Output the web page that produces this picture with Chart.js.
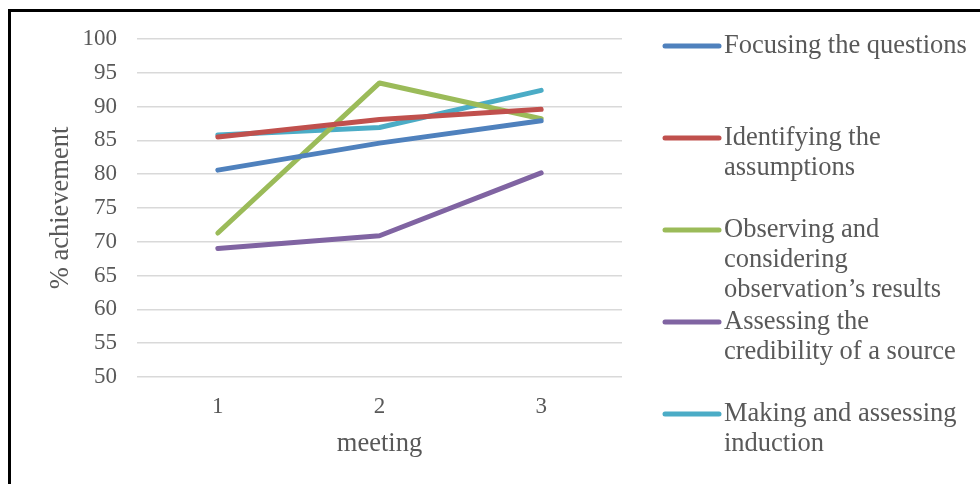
<!DOCTYPE html>
<html>
<head>
<meta charset="utf-8">
<script src="https://cdn.jsdelivr.net/npm/chart.js@4"></script>
<style>
    html, body { margin: 0; padding: 0; background: #fff; }
    #wrap { position: relative; width: 980px; height: 484px; overflow: hidden; }
    #frame { position: absolute; left: 8px; top: 9px; width: 1000px; height: 600px; border-left: 3px solid #000; border-top: 3px solid #000; }
    canvas { position: absolute; left: 0; top: 0; }
</style>
</head>
<body>
<div id="wrap">
    <div id="frame"></div>
    <canvas id="myChart" width="980" height="484"></canvas>
</div>
<script>
// data
const meetings = ['1', '2', '3'];
const seriesNames = [
    'Focusing the questions',
    'Identifying the assumptions',
    'Observing and considering observation\u2019s results',
    'Assessing the credibility of a source',
    'Making and assessing induction'
];
const focusing = [80.6, 84.6, 87.9];
const identifying = [85.5, 88.1, 89.6];
const observing = [71.3, 93.5, 88.2];
const assessing = [69.0, 70.9, 80.2];
const making = [85.8, 86.9, 92.4];
const yTicks = [50, 55, 60, 65, 70, 75, 80, 85, 90, 95, 100];

const colors = ['#4F81BD', '#C0504D', '#9BBB59', '#8064A2', '#4BACC6'];
const FONT = "'Liberation Serif', 'Times New Roman', serif";
const TEXT = '#595959';

document.addEventListener('DOMContentLoaded', () => {
    const ctx = document.getElementById('myChart').getContext('2d');
    const values = [focusing, identifying, observing, assessing, making];

    // legend on the right with wrapped labels
    const sideLegend = {
        id: 'sideLegend',
        afterDraw(chart) {
            const c = chart.ctx;
            c.save();
            c.font = '26.5px ' + FONT;
            c.fillStyle = TEXT;
            c.textBaseline = 'middle';
            c.textAlign = 'left';
            chart.data.datasets.forEach((ds, i) => {
                const y = 46 + i * 92;
                c.strokeStyle = ds.borderColor;
                c.lineWidth = 5;
                c.lineCap = 'round';
                c.beginPath();
                c.moveTo(665, y);
                c.lineTo(719, y);
                c.stroke();
                // wrap words
                const words = ds.label.split(' ');
                const lines = [];
                let cur = '';
                words.forEach(w => {
                    const t = cur ? cur + ' ' + w : w;
                    if (c.measureText(t).width > 252 && cur) {
                        lines.push(cur);
                        cur = w;
                    } else {
                        cur = t;
                    }
                });
                lines.push(cur);
                lines.forEach((ln, k) => c.fillText(ln, 724, y + k * 30));
            });
            c.restore();
        }
    };

    new Chart(ctx, {
        type: 'line',
        data: {
            labels: meetings,
            datasets: seriesNames.map((name, i) => ({
                label: name,
                data: values[i],
                borderColor: colors[i],
                backgroundColor: colors[i],
                borderWidth: 5,
                borderCapStyle: 'round',
                borderJoinStyle: 'round',
                pointRadius: 0,
                tension: 0,
                fill: false
            }))
        },
        options: {
            responsive: false,
            animation: false,
            layout: { padding: { left: 10, top: 39, right: 358, bottom: 0 } },
            plugins: {
                legend: { display: false },
                tooltip: { enabled: false }
            },
            scales: {
                x: {
                    offset: true,
                    grid: { display: false, drawTicks: false },
                    border: { display: false },
                    ticks: { color: TEXT, font: { family: FONT, size: 23 }, padding: 16 },
                    title: { display: true, text: 'meeting', color: TEXT, font: { family: FONT, size: 26.5 }, padding: { top: 0, bottom: 24 } },
                    afterFit: scale => { scale.height = 107; }
                },
                y: {
                    min: 50,
                    max: 100,
                    afterBuildTicks: scale => { scale.ticks = yTicks.map(v => ({ value: v })); },
                    grid: { color: '#D9D9D9', lineWidth: 1.5, drawTicks: false },
                    border: { display: false },
                    ticks: { color: TEXT, font: { family: FONT, size: 23 }, padding: 20 },
                    title: { display: true, text: '% achievement', color: TEXT, font: { family: FONT, size: 26.5 }, padding: { top: 35, bottom: 0 } },
                    afterFit: scale => { scale.width = 127; }
                }
            }
        },
        plugins: [sideLegend]
    });
});
</script>
</body>
</html>
